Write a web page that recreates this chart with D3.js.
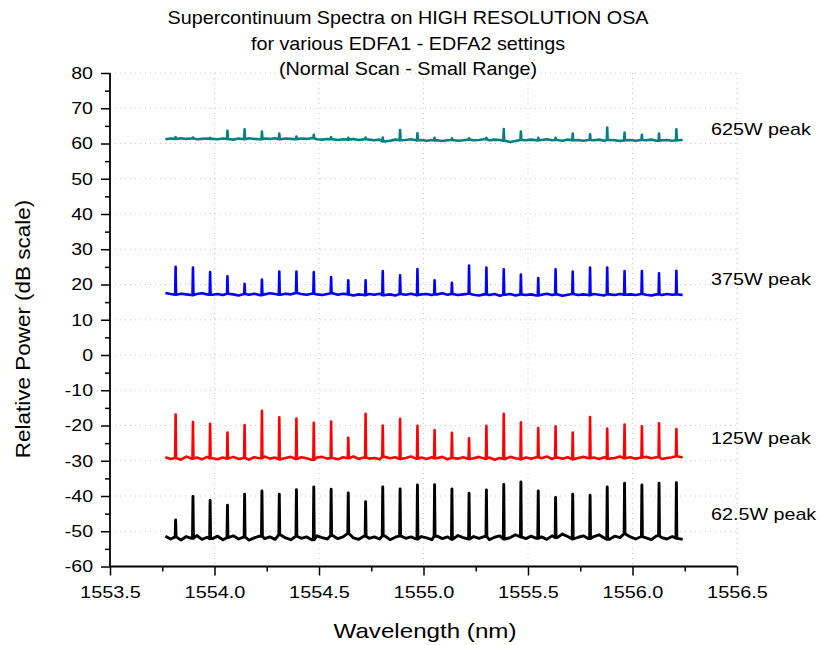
<!DOCTYPE html>
<html>
<head>
<meta charset="utf-8">
<script src="https://cdn.jsdelivr.net/npm/d3@7"></script>
<style>
  html, body { margin: 0; padding: 0; background: #fff; }
  svg { display: block; font-family: "Liberation Sans", Arial, sans-serif; }
</style>
</head>
<body>
<svg id="chart" width="820" height="645"></svg>
<script>
// Supercontinuum spectra recorded on a high-resolution OSA, four pump levels.

// Comb line wavelengths (nm), shared by all four spectra
const peakWavelengths = [
  1553.814, 1553.897, 1553.979, 1554.062, 1554.144, 1554.227, 1554.310, 1554.392, 1554.475, 1554.558,
  1554.640, 1554.723, 1554.805, 1554.888, 1554.971, 1555.053, 1555.136, 1555.218, 1555.301, 1555.384,
  1555.466, 1555.549, 1555.632, 1555.714, 1555.797, 1555.879, 1555.962, 1556.045, 1556.127, 1556.210
];

// Background samples: first wavelength and spacing (nm)
const sampleStart = 1553.765;
const sampleStep = 0.025;

// Peak power (dB) at each comb line
const peaks625 = [
  61.8, 61.7, 61.6, 63.6, 64.0, 63.4, 62.8, 62.0, 62.5, 61.8,
  61.6, 61.7, 61.7, 63.8, 62.9, 61.6, 61.5, 61.5, 61.6, 64.1,
  63.4, 61.6, 61.6, 62.8, 62.6, 64.5, 63.1, 62.5, 62.8, 64.0
];
const peaks375 = [
  25.0, 24.8, 23.5, 22.3, 20.2, 21.4, 23.7, 23.7, 23.5, 22.1,
  21.2, 21.2, 23.8, 22.6, 24.4, 21.2, 20.5, 25.4, 24.8, 24.3,
  22.8, 21.8, 24.3, 23.7, 24.8, 24.8, 23.8, 23.8, 23.2, 23.9
];
const peaks125 = [
  -16.9, -19.0, -19.5, -22.0, -19.9, -15.8, -17.7, -18.0, -19.2, -18.9,
  -23.5, -16.7, -20.0, -18.1, -20.1, -21.3, -22.1, -23.6, -20.1, -16.7,
  -19.1, -20.7, -20.2, -22.0, -17.6, -20.9, -19.7, -20.2, -19.4, -21.0
];
const peaks62 = [
  -46.8, -40.1, -41.2, -42.6, -39.5, -38.6, -39.5, -38.2, -37.4, -38.1,
  -39.1, -41.6, -37.4, -38.0, -36.9, -36.8, -38.0, -39.2, -38.3, -36.7,
  -36.0, -38.6, -40.4, -39.5, -39.8, -37.4, -36.4, -36.9, -36.4, -36.2
];

// Background level (dB) between the comb lines
const base625 = [
  61.2, 61.4, 61.3, 61.5, 61.3, 61.4, 61.2, 61.3, 61.4, 61.3,
  61.2, 61.4, 61.3, 61.1, 61.4, 61.2, 61.5, 61.3, 61.2, 61.4,
  61.3, 61.5, 61.2, 61.4, 61.3, 61.2, 61.4, 61.3, 61.5, 61.2,
  61.1, 61.3, 61.2, 61.0, 61.2, 61.1, 61.3, 61.0, 61.2, 61.1,
  60.9, 61.1, 60.6, 60.8, 61.1, 60.9, 61.0, 61.2, 60.9, 61.0,
  60.8, 61.0, 60.9, 60.7, 60.9, 61.0, 60.8, 60.9, 61.1, 60.9,
  61.0, 61.2, 60.9, 61.1, 61.0, 60.8, 60.4, 60.7, 61.0, 60.9,
  61.1, 60.9, 61.0, 61.2, 60.9, 61.0, 60.8, 61.1, 60.9, 61.0,
  60.8, 61.0, 60.9, 61.1, 60.8, 61.0, 60.9, 60.7, 60.9, 61.0,
  60.8, 61.0, 60.9, 61.1, 60.8, 60.9, 61.0, 60.8, 60.9, 61.0
];
const base375 = [
  17.6, 17.3, 17.1, 17.4, 17.2, 17.0, 17.3, 17.5, 17.2, 17.1,
  17.3, 17.0, 17.4, 17.2, 16.9, 17.3, 17.1, 17.4, 17.0, 17.2,
  17.5, 17.3, 17.1, 17.4, 17.2, 17.6, 17.3, 17.1, 17.4, 17.2,
  17.0, 17.3, 17.5, 17.1, 17.4, 17.2, 16.9, 17.2, 17.0, 17.3,
  17.1, 17.4, 17.0, 17.2, 16.9, 17.3, 17.1, 17.4, 17.0, 17.2,
  17.3, 17.0, 17.2, 17.5, 17.1, 17.3, 17.0, 17.2, 17.4, 17.1,
  16.9, 17.2, 17.0, 17.3, 16.8, 17.1, 17.3, 16.9, 17.2, 17.0,
  17.2, 16.9, 17.1, 17.4, 17.0, 17.2, 16.8, 17.1, 17.3, 17.0,
  17.2, 17.0, 17.3, 17.1, 16.9, 17.2, 17.0, 17.3, 17.1, 17.2,
  17.0, 17.3, 17.1, 16.9, 17.2, 17.0, 17.3, 17.1, 17.2, 17.0
];
const base125 = [
  -29.0, -29.5, -29.2, -29.7, -28.8, -29.4, -29.1, -29.6, -28.9, -29.3,
  -29.6, -29.1, -29.4, -28.9, -29.5, -29.2, -29.7, -29.0, -29.3, -28.8,
  -29.4, -29.1, -29.6, -29.2, -28.9, -29.5, -29.0, -29.3, -29.7, -29.1,
  -28.9, -29.4, -29.2, -29.6, -29.0, -29.3, -28.8, -29.5, -29.1, -29.4,
  -29.2, -29.6, -28.9, -29.3, -29.0, -29.5, -29.2, -28.8, -29.4, -29.1,
  -29.5, -29.0, -29.3, -28.9, -29.6, -29.2, -29.4, -29.0, -29.5, -29.3,
  -28.9, -29.4, -29.1, -29.7, -29.2, -29.5, -28.9, -29.3, -29.6, -29.1,
  -29.4, -29.0, -29.3, -28.8, -29.5, -29.1, -29.4, -29.0, -29.6, -29.2,
  -28.9, -29.3, -29.1, -29.5, -29.0, -29.4, -29.2, -28.8, -29.3, -29.0,
  -29.4, -29.1, -28.9, -29.3, -29.0, -29.5, -29.2, -29.0, -28.7, -29.1
];
const base62 = [
  -51.4, -52.2, -51.6, -52.5, -51.5, -52.0, -51.2, -52.3, -51.7, -52.1,
  -51.4, -52.4, -51.8, -51.3, -52.2, -51.6, -52.5, -51.9, -51.4, -52.1,
  -51.6, -52.3, -51.0, -51.9, -52.4, -51.4, -52.0, -51.6, -52.4, -51.3,
  -51.8, -52.2, -51.2, -52.1, -51.6, -50.6, -51.9, -52.3, -51.4, -52.0,
  -51.6, -52.2, -51.3, -52.4, -51.7, -51.3, -52.0, -51.6, -52.2, -51.5,
  -51.9, -52.4, -51.4, -52.1, -51.6, -52.3, -51.2, -51.8, -52.2, -51.5,
  -52.0, -51.5, -52.4, -51.7, -51.3, -52.2, -51.8, -51.0, -51.6, -52.1,
  -51.4, -52.0, -51.6, -52.3, -51.3, -51.8, -50.8, -51.5, -52.2, -51.7,
  -51.3, -52.1, -51.5, -51.0, -51.9, -52.3, -51.4, -51.8, -50.7, -51.6,
  -52.2, -51.5, -51.9, -52.4, -51.3, -51.8, -52.2, -51.5, -52.0, -52.3
];

const seriesLabels = ["625W peak", "375W peak", "125W peak", "62.5W peak"];
const seriesColors = ["#008080", "#0000ff", "#ff0000", "#000000"];
const seriesPeaks = [peaks625, peaks375, peaks125, peaks62];
const seriesBase = [base625, base375, base125, base62];

const xTicks = [1553.5, 1554.0, 1554.5, 1555.0, 1555.5, 1556.0, 1556.5];
const xMinorTicks = [1553.75, 1554.25, 1554.75, 1555.25, 1555.75, 1556.25];
const yTicks = [80, 70, 60, 50, 40, 30, 20, 10, 0, -10, -20, -30, -40, -50, -60];
const yMinorTicks = [75, 65, 55, 45, 35, 25, 15, 5, -5, -15, -25, -35, -45, -55];
const titleLines = [
  "Supercontinuum Spectra on HIGH RESOLUTION OSA",
  "for various EDFA1 - EDFA2 settings",
  "(Normal Scan - Small Range)"
];

// ---- layout ----
const plot = { left: 110, right: 737, top: 73, bottom: 566.5 };
const svg = d3.select("#chart");

const x = d3.scaleLinear().domain([1553.5, 1556.5]).range([plot.left, plot.right]);
const y = d3.scaleLinear().domain([-60, 80]).range([plot.bottom, plot.top]);

// widen text glyphs horizontally by factor k
function widen(sel, k) {
  sel.each(function () {
    const w = this.getComputedTextLength();
    d3.select(this).attr("textLength", w * k).attr("lengthAdjust", "spacingAndGlyphs");
  });
}

// dotted grid
const grid = svg.append("g").attr("stroke", "#c8c8c8").attr("stroke-width", 1)
  .attr("stroke-dasharray", "1,4");
grid.selectAll("line.v").data(xTicks.slice(1)).join("line")
  .attr("x1", d => x(d)).attr("x2", d => x(d))
  .attr("y1", plot.top).attr("y2", plot.bottom);
grid.selectAll("line.h").data(yTicks.filter(d => d > -60)).join("line")
  .attr("x1", plot.left).attr("x2", plot.right)
  .attr("y1", d => y(d)).attr("y2", d => y(d));

// spectra
const line = d3.line().x(d => x(d[0])).y(d => y(d[1]));
const halfWidth = 0.0022;

seriesBase.forEach((base, s) => {
  const pts = [];
  base.forEach((v, k) => {
    const wl = sampleStart + k * sampleStep;
    const near = peakWavelengths.some(p => Math.abs(p - wl) < 0.005);
    if (!near) pts.push([wl, v]);
  });
  seriesPeaks[s].forEach((top, i) => {
    const p = peakWavelengths[i];
    const k = Math.round((p - sampleStart) / sampleStep);
    const foot = base[Math.max(0, Math.min(base.length - 1, k))];
    pts.push([p - halfWidth, foot], [p, top], [p + halfWidth, foot]);
  });
  pts.sort((a, b) => a[0] - b[0]);
  svg.append("path")
    .datum(pts)
    .attr("fill", "none")
    .attr("stroke", seriesColors[s])
    .attr("stroke-width", s === 3 ? 2.9 : 2.6)
    .attr("stroke-linejoin", "round")
    .attr("d", line);
});

// axes
const fmt = d => (Number.isInteger(d) ? String(d) : d.toFixed(1));
const xAxis = svg.append("g").attr("transform", `translate(0,${plot.bottom})`)
  .call(d3.axisBottom(x).tickValues(xTicks).tickFormat(d => d.toFixed(1)).tickSize(9).tickPadding(10));
const xMinor = svg.append("g").attr("transform", `translate(0,${plot.bottom})`)
  .call(d3.axisBottom(x).tickValues(xMinorTicks).tickFormat("").tickSize(5));
const yAxis = svg.append("g").attr("transform", `translate(${plot.left},0)`)
  .call(d3.axisLeft(y).tickValues(yTicks).tickFormat(d => String(d)).tickSize(9).tickPadding(8));
const yMinor = svg.append("g").attr("transform", `translate(${plot.left},0)`)
  .call(d3.axisLeft(y).tickValues(yMinorTicks).tickFormat("").tickSize(5));

[xAxis, xMinor, yAxis, yMinor].forEach(g => {
  g.select(".domain").attr("stroke", "#000").attr("stroke-width", 1.8);
  g.selectAll(".tick line").attr("stroke", "#000").attr("stroke-width", 1.5);
  g.selectAll(".tick text").attr("fill", "#000").style("font-size", "17px")
    .style("font-family", "'Liberation Sans', Arial, sans-serif");
});
xAxis.select(".domain").attr("d", `M${plot.left},0H${plot.right}`);
yAxis.select(".domain").attr("d", `M0,${plot.bottom}V${plot.top}`);
xMinor.select(".domain").remove();
yMinor.select(".domain").remove();
widen(xAxis.selectAll(".tick text"), 1.17);
widen(yAxis.selectAll(".tick text"), 1.15);

// title
const title = svg.append("g").selectAll("text").data(titleLines).join("text")
  .attr("x", 408).attr("y", (d, i) => 24 + i * 25.5)
  .attr("text-anchor", "middle")
  .style("font-size", "19px")
  .text(d => d);
widen(title, 1.04);

// axis titles
const xTitle = svg.append("text")
  .attr("x", 425).attr("y", 638)
  .attr("text-anchor", "middle").style("font-size", "21px")
  .text("Wavelength (nm)");
widen(xTitle, 1.15);
const yTitle = svg.append("text")
  .attr("transform", `translate(30,329) rotate(-90)`)
  .attr("text-anchor", "middle").style("font-size", "21px")
  .text("Relative Power (dB scale)");
widen(yTitle, 1.07);

// series labels
const labelLevels = [62.4, 19.9, -25.2, -46.8];
const labels = svg.append("g").selectAll("text").data(seriesLabels).join("text")
  .attr("x", 711).attr("y", (d, i) => y(labelLevels[i]))
  .style("font-size", "17px")
  .text(d => d);
widen(labels, 1.16);
</script>
</body>
</html>
